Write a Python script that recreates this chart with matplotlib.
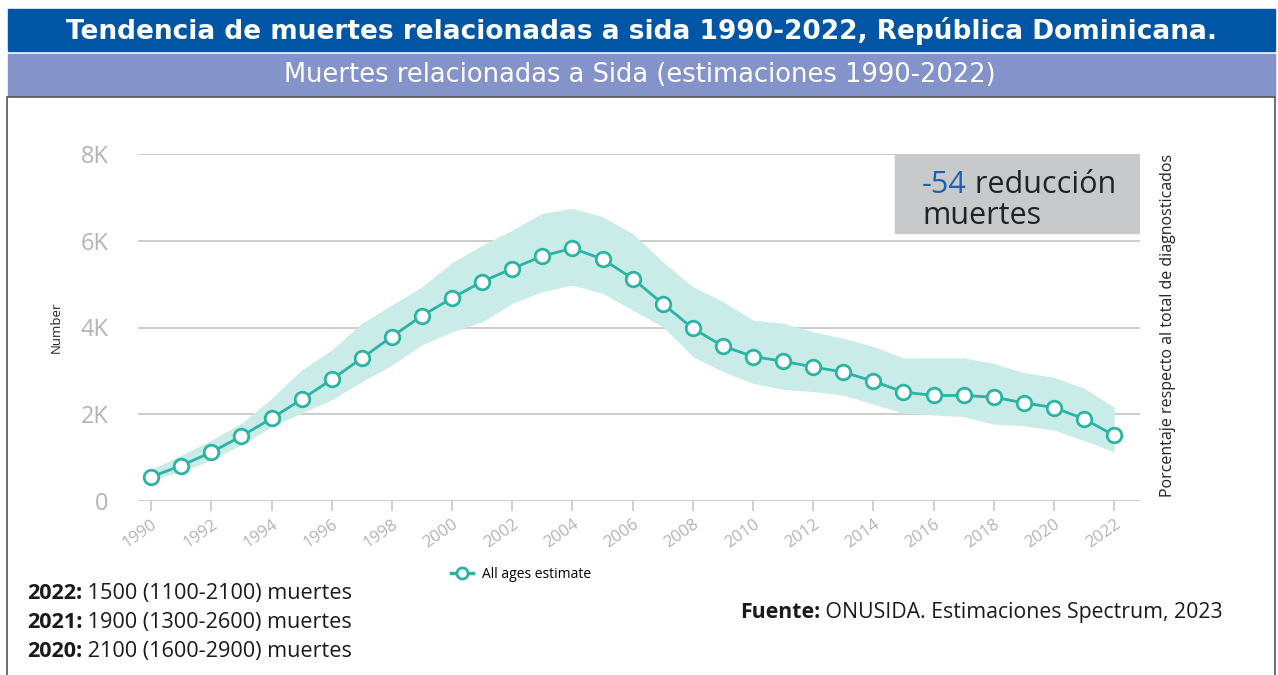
import matplotlib.pyplot as plt
from matplotlib.patches import Rectangle
from matplotlib.lines import Line2D

# datos (muertes relacionadas a sida, estimaciones)
years = list(range(1990, 2023))
deaths = [550, 810, 1120, 1490, 1900, 2340, 2800, 3290, 3790, 4270,
          4680, 5060, 5360, 5650, 5830, 5580, 5130, 4550, 3980, 3570,
          3330, 3220, 3090, 2970, 2760, 2510, 2430, 2430, 2390, 2260,
          2150, 1890, 1510]
upper = [720, 1050, 1400, 1790, 2360, 3020, 3480, 4100, 4520, 4940,
         5500, 5900, 6250, 6640, 6750, 6560, 6170, 5520, 4940, 4600,
         4170, 4100, 3900, 3750, 3560, 3300, 3300, 3300, 3170, 2960,
         2850, 2600, 2160]
lower = [480, 670, 940, 1290, 1710, 2020, 2330, 2750, 3130, 3600,
         3900, 4130, 4560, 4830, 4980, 4790, 4400, 4020, 3330, 2980,
         2710, 2570, 2520, 2440, 2230, 2020, 1980, 1940, 1770, 1730,
         1630, 1390, 1130]

yticks = [0, 2000, 4000, 6000, 8000]
ytick_labels = ['0', '2K', '4K', '6K', '8K']
xticks = list(range(1990, 2023, 2))

summary = [('2022:', '1500 (1100-2100) muertes'),
           ('2021:', '1900 (1300-2600) muertes'),
           ('2020:', '2100 (1600-2900) muertes')]

W, H = 1278, 675
TEAL = '#2BB3A3'
BAND = '#C9ECE8'
GRAY = '#B3B3B3'

plt.rcParams['font.family'] = ['Open Sans', 'DejaVu Sans']

fig = plt.figure(figsize=(W / 100, H / 100), dpi=100)


def fx(px):
    return px / W


def fy(py):
    return 1 - py / H


# cabeceras
fig.patches.append(Rectangle((fx(8), fy(51)), fx(1275 - 8), (51 - 9) / H,
                             transform=fig.transFigure, color='#0055A5', zorder=0))
fig.patches.append(Rectangle((fx(8), fy(96)), fx(1275 - 8), (96 - 54) / H,
                             transform=fig.transFigure, color='#8493C9', zorder=0))
fig.patches.append(Rectangle((fx(7), fy(676)), fx(1275 - 7), (676 - 97) / H,
                             transform=fig.transFigure, facecolor='none',
                             edgecolor='#555555', lw=1.2, zorder=0))
fig.text(fx(642), fy(31), 'Tendencia de muertes relacionadas a sida 1990-2022, República Dominicana.',
         ha='center', va='center', color='white', fontsize=19, fontweight='bold',
         family='DejaVu Sans')
fig.text(fx(640), fy(75), 'Muertes relacionadas a Sida (estimaciones 1990-2022)',
         ha='center', va='center', color='white', fontsize=18.5, family='DejaVu Sans')

# grafico principal
ax = fig.add_axes([fx(137.6), fy(500.7), fx(1140 - 137.6), (500.7 - 154.3) / H])
ax.fill_between(years, lower, upper, color=BAND, lw=0, zorder=1)
line, = ax.plot(years, deaths, color=TEAL, lw=2, marker='o', markersize=10.5,
                markerfacecolor='white', markeredgecolor=TEAL, markeredgewidth=2,
                zorder=3, label='All ages estimate')

ax.set_xlim(1989.55, 2022.86)
ax.set_ylim(0, 8000)
ax.set_yticks(yticks)
ax.set_yticklabels(ytick_labels)
ax.set_xticks(xticks)
ax.set_xticklabels([str(x) for x in xticks], rotation=35, ha='right',
                   rotation_mode='anchor')
ax.tick_params(axis='y', length=0, pad=21, labelsize=17, labelcolor=GRAY)
ax.tick_params(axis='x', length=7, width=1.2, color='#C8C8C8', pad=4,
               labelsize=12, labelcolor=GRAY)
for s in ax.spines.values():
    s.set_visible(False)
ax.grid(axis='y', color='#C8C8C8', lw=1.3)
ax.set_axisbelow(True)
ax.set_ylabel('Number', fontsize=9.5, color='#222222', labelpad=13)

# caja de reduccion
ax.add_patch(Rectangle((0.7556, 0.7728), 0.2444, 0.2272, transform=ax.transAxes,
                       color='#C8C9CB', zorder=4))
t1 = fig.text(fx(922), fy(193), '-54', color='#1F5FB0', fontsize=22, va='baseline')
ax.annotate(' reducción', xy=(1, 0), xycoords=t1, va='bottom', ha='left',
            fontsize=22, color='#222222', annotation_clip=False, zorder=6)
fig.text(fx(922), fy(224), 'muertes', color='#222222', fontsize=22, va='baseline')

fig.text(fx(1168), fy(325), 'Porcentaje respecto al total de diagnosticados',
         rotation=90, ha='center', va='center', fontsize=11.5, color='#222222')

# leyenda
handle = Line2D([], [], color=TEAL, lw=2.5, marker='o', markersize=8,
                markerfacecolor='white', markeredgecolor=TEAL, markeredgewidth=2)
fig.legend([handle], ['All ages estimate'], loc='center left',
           bbox_to_anchor=(fx(438), fy(574)), frameon=False, fontsize=10,
           handlelength=1.6, handletextpad=0.7)

# textos inferiores
for i, (yr, txt) in enumerate(summary):
    tb = fig.text(fx(27), fy(599 + 29 * i), yr, fontsize=15.6, fontweight='bold',
                  color='#1A1A1A', va='baseline')
    ax.annotate(' ' + txt, xy=(1, 0), xycoords=tb, va='bottom', ha='left',
                fontsize=15.6, color='#1A1A1A', annotation_clip=False)

ts = fig.text(fx(740), fy(618), 'Fuente:', fontsize=15.3, fontweight='bold',
              color='#1A1A1A', va='baseline')
ax.annotate(' ONUSIDA. Estimaciones Spectrum, 2023', xy=(1, 0), xycoords=ts,
            va='bottom', ha='left', fontsize=15.3, color='#1A1A1A',
            annotation_clip=False)

fig.savefig('out.png', dpi=100)
